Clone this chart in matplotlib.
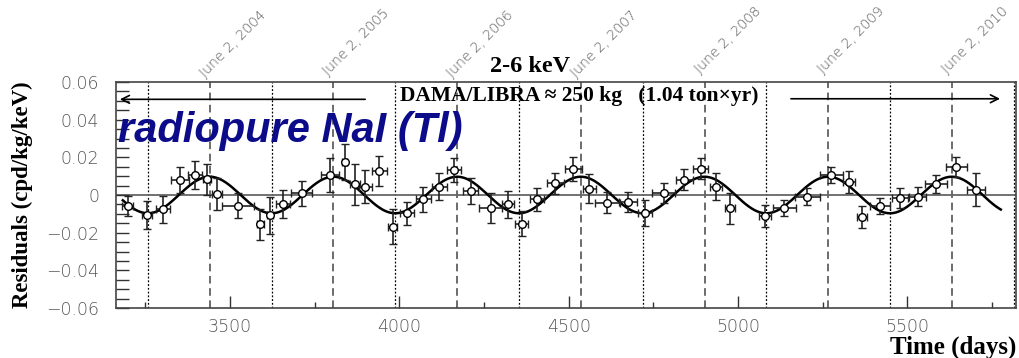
import datetime
import matplotlib
matplotlib.use('Agg')
import matplotlib.pyplot as plt
import numpy as np

# residual rate, 2-6 keV, DAMA/LIBRA (days since Jan 1, 1995)
days = [3197, 3254, 3301, 3352, 3397, 3431, 3462, 3524, 3589, 3618,
        3656, 3712, 3795, 3838, 3869, 3899, 3941, 3980, 4022, 4071,
        4117, 4161, 4211, 4270, 4320, 4361, 4406, 4460, 4514, 4561,
        4614, 4676, 4725, 4780, 4841, 4890, 4935, 4975, 5080, 5136,
        5205, 5275, 5328, 5365, 5420, 5479, 5530, 5585, 5644, 5703]
resid = [-0.0058, -0.0108, -0.0076, 0.0080, 0.0106, 0.0083, 0.0005, -0.0056, -0.0156, -0.0108,
         -0.0049, 0.0009, 0.0106, 0.0175, 0.0057, 0.0045, 0.0128, -0.0168, -0.0097, -0.0023,
         0.0045, 0.0133, 0.0021, -0.0071, -0.0049, -0.0152, -0.0023, 0.0062, 0.0140, 0.0034,
         -0.0040, -0.0035, -0.0097, 0.0013, 0.0080, 0.0140, 0.0045, -0.0071, -0.0111, -0.0067,
         -0.0009, 0.0106, 0.0069, -0.0115, -0.0058, -0.0014, -0.0009, 0.0057, 0.0151, 0.0027]
yerr = [0.0053, 0.0074, 0.0071, 0.0067, 0.0076, 0.0083, 0.0083, 0.0065, 0.0081, 0.0097,
        0.0073, 0.0067, 0.0088, 0.0096, 0.0108, 0.0087, 0.0081, 0.0092, 0.0062, 0.0066,
        0.0073, 0.0062, 0.0068, 0.0080, 0.0071, 0.0068, 0.0062, 0.0056, 0.0064, 0.0077,
        0.0055, 0.0053, 0.0068, 0.0053, 0.0056, 0.0056, 0.0073, 0.0082, 0.0060, 0.0042,
        0.0044, 0.0044, 0.0060, 0.0058, 0.0041, 0.0053, 0.0051, 0.0048, 0.0053, 0.0088]
xerr = [16, 14, 20, 27, 20, 12, 15, 47, 10, 10,
        21, 31, 26, 8, 15, 19, 22, 14, 21, 23,
        22, 22, 22, 34, 18, 20, 20, 25, 25, 19,
        36, 27, 20, 34, 25, 22, 18, 15, 18, 34,
        37, 34, 18, 15, 29, 24, 26, 33, 31, 27]

# fit: A cos(w (t - t0)), T = 1 yr, t0 = June 2
amp = 0.0097
period = 365.25
t0 = 152.5
fit_range = (3183, 5776)

years = [2004, 2005, 2006, 2007, 2008, 2009, 2010]
label_py = [80, 78, 80, 80, 76, 76, 76]  # pixel height of the rotated date labels

origin = datetime.date(1995, 1, 1)
june2 = [(datetime.date(y, 6, 2) - origin).days for y in years]
dec2 = [(datetime.date(y, 12, 2) - origin).days for y in [2003] + years]

W, H = 1019, 358
fig = plt.figure(figsize=(W / 100, H / 100), dpi=100)
ax = fig.add_axes([115.7 / W, 1 - 308 / H, 900 / W, 226 / H])
ax.set_xlim(3162, 5820)
ax.set_ylim(-0.06, 0.06)

for d in june2:
    ax.axvline(d, color='#444444', lw=1.1, ls=(0, (5, 3)), zorder=1)
for d in dec2:
    ax.axvline(d, color='black', lw=0.9, ls=(0, (1.5, 1.5)), zorder=1)
ax.axhline(0, color='#666666', lw=1.3, zorder=1)

t = np.linspace(fit_range[0], fit_range[1], 800)
ax.plot(t, amp * np.cos(2 * np.pi / period * (t - t0)), color='black', lw=1.8, zorder=2)

ax.errorbar(days, resid, xerr=xerr, yerr=yerr, fmt='o', ms=5.5, mfc='white', mec='black',
            mew=1.0, ecolor='#222222', elinewidth=1.2, capsize=2.6, capthick=1.2, zorder=3)

ax.set_xticks([3500, 4000, 4500, 5000, 5500])
ax.set_xticks(np.arange(3250, 5820, 250), minor=True)
ax.set_yticks(np.arange(-0.06, 0.061, 0.02))
ax.set_yticks(np.arange(-0.06, 0.061, 0.005), minor=True)
ax.set_yticklabels(['\u22120.06', '\u22120.04', '\u22120.02', '0', '0.02', '0.04', '0.06'])
ax.tick_params(axis='both', which='both', direction='in', top=False, right=False,
               labelcolor='#555555', labelsize=12.5, width=1.0, color='#333333')
ax.tick_params(axis='x', which='major', length=9, pad=7)
ax.tick_params(axis='x', which='minor', length=4.5)
ax.tick_params(axis='y', which='both', length=9, pad=12)
for lab in ax.get_xticklabels() + ax.get_yticklabels():
    lab.set_fontweight('light')
for s in ax.spines.values():
    s.set_color('#444444')
    s.set_linewidth(1.2)

ax.set_ylabel('Residuals (cpd/kg/keV)', family='Liberation Serif', fontweight='bold', fontsize=16.5)
ax.yaxis.set_label_coords(-0.092, 0.5)
fig.text(1016 / W, 1 - 354 / H, 'Time (days)', family='Liberation Serif', fontweight='bold',
         fontsize=18, ha='right', va='baseline')

fig.text(530 / W, 1 - 67 / H, '2-6 keV', family='Liberation Serif', fontweight='bold',
         fontsize=17.5, ha='center', va='center')
ax.text(4002, 0.0524, 'DAMA/LIBRA \u2248 250 kg   (1.04 ton\u00d7yr)', family='Liberation Serif',
        fontweight='bold', fontsize=15.5, ha='left', va='center')
ax.annotate('', xy=(3166, 0.0508), xytext=(3907, 0.0508),
            arrowprops=dict(arrowstyle='->', color='black', lw=1.2, mutation_scale=14))
ax.annotate('', xy=(5782, 0.0511), xytext=(5148, 0.0511),
            arrowprops=dict(arrowstyle='->', color='black', lw=1.2, mutation_scale=14))
ax.text(3168, 0.034, 'radiopure NaI (Tl)', family='Liberation Sans', fontweight='bold',
        style='italic', fontsize=30, color='#0c0c8a', ha='left', va='center')

for d, yr, py in zip(june2, years, label_py):
    xf = ax.transData.transform((d, 0))[0] / W
    fig.text(xf - 3 / W, 1 - py / H, 'June 2, %d' % yr, rotation=45, rotation_mode='anchor',
             ha='left', va='bottom', fontsize=10, color='#555555', fontweight='light')

fig.savefig('out.png', dpi=100)
